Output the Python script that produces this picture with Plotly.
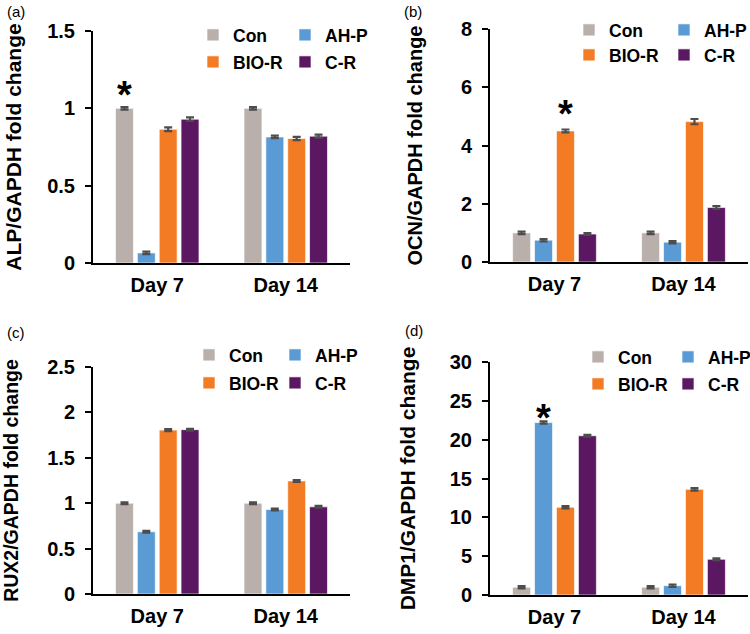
import plotly.graph_objects as go

days = ["Day 7", "Day 14"]
groups = ["Con", "AH-P", "BIO-R", "C-R"]
colors = {"Con": "#B9AFAB", "AH-P": "#5B9BD5", "BIO-R": "#F37B24", "C-R": "#5C1763"}

# panel values (Day 7, Day 14)
alp = {"Con": [1.0, 1.0], "AH-P": [0.065, 0.815], "BIO-R": [0.865, 0.805], "C-R": [0.93, 0.82]}
alp_err = {"Con": [0.008, 0.008], "AH-P": [0.008, 0.008], "BIO-R": [0.012, 0.01], "C-R": [0.012, 0.01]}
ocn = {"Con": [1.0, 1.0], "AH-P": [0.75, 0.68], "BIO-R": [4.5, 4.82], "C-R": [0.96, 1.87]}
ocn_err = {"Con": [0.04, 0.04], "AH-P": [0.04, 0.04], "BIO-R": [0.05, 0.09], "C-R": [0.03, 0.05]}
rux = {"Con": [1.0, 1.0], "AH-P": [0.685, 0.93], "BIO-R": [1.805, 1.245], "C-R": [1.81, 0.96]}
rux_err = {"Con": [0.01, 0.01], "AH-P": [0.01, 0.01], "BIO-R": [0.012, 0.01], "C-R": [0.01, 0.01]}
dmp = {"Con": [1.0, 1.0], "AH-P": [22.2, 1.2], "BIO-R": [11.3, 13.6], "C-R": [20.5, 4.6]}
dmp_err = {"Con": [0.15, 0.15], "AH-P": [0.15, 0.15], "BIO-R": [0.15, 0.15], "C-R": [0.12, 0.12]}

y_titles = ["ALP/GAPDH fold change", "OCN/GAPDH fold change",
            "RUX2/GAPDH fold change", "DMP1/GAPDH fold change"]
panel_tags = ["(a)", "(b)", "(c)", "(d)"]
y_ranges = [[0, 1.5], [0, 8], [0, 2.5], [0, 30]]
y_dticks = [0.5, 2, 0.5, 5]
# significance markers: (group, day, y value)
stars = [("Con", "Day 7", 1.135), ("BIO-R", "Day 7", 5.35), None, ("AH-P", "Day 7", 23.8)]

W, H = 750, 634
FONT = "Liberation Sans, Arial, sans-serif"

# pixel layout of the panels: (x0, x1, ytop, ybottom)
boxes = [(93, 350, 31, 263), (490, 748, 29, 262), (93, 350, 367, 594), (490, 748, 362, 595)]
# legend symbol centres: (x col1, x col2, y row1, y row2)
legpos = [(213, 303, 35, 62), (589, 682, 30, 55), (209, 293, 355, 383), (598, 686, 357, 384)]
tag_pos = [(5, 12), (402, 12), (5, 332), (403, 330)]
title_standoff = [20, 33, 26, 28]
title_size = [21, 20, 19.5, 21]

datasets = [(alp, alp_err), (ocn, ocn_err), (rux, rux_err), (dmp, dmp_err)]

fig = go.Figure()
layout = dict(width=W, height=H, margin=dict(l=0, r=0, t=0, b=0, autoexpand=False), autosize=False,
              paper_bgcolor="white", plot_bgcolor="white", barmode="group",
              bargap=0.32, bargroupgap=0.18, font=dict(family=FONT, color="black"))
annotations = []
for i, ((vals, errs), box) in enumerate(zip(datasets, boxes)):
    k = i + 1
    xa = "x" if k == 1 else f"x{k}"
    ya = "y" if k == 1 else f"y{k}"
    leg_a = "legend" if k == 1 else f"legend{2*k-1}"
    leg_b = f"legend{2*k}"
    for g in groups:
        fig.add_trace(go.Bar(
            x=days, y=vals[g], name=g, xaxis=xa, yaxis=ya,
            marker=dict(color=colors[g], line=dict(color="rgba(255,255,255,0.8)", width=0.8)),
            error_y=dict(type="data", array=errs[g], color="#4D4D4D", thickness=2.2, width=4),
            legend=leg_a if g in ("Con", "AH-P") else leg_b,
        ))
    x0, x1, yt, yb = box
    xkey = "xaxis" if k == 1 else f"xaxis{k}"
    ykey = "yaxis" if k == 1 else f"yaxis{k}"
    layout[xkey] = dict(domain=[x0 / W, x1 / W], anchor=ya, type="category", automargin=False,
                        range=[-0.5, 1.5], showline=True, linecolor="black", linewidth=2,
                        ticks="", showgrid=False, zeroline=False,
                        tickfont=dict(size=20, family=FONT, color="black", weight="bold"),
                        ticklabelstandoff=3)
    layout[ykey] = dict(domain=[1 - yb / H, 1 - yt / H], anchor=xa, range=y_ranges[i],
                        automargin=False,
                        dtick=y_dticks[i], tick0=0, showline=True, linecolor="black",
                        linewidth=2, ticks="outside", ticklen=6, tickwidth=2,
                        tickcolor="black", showgrid=False, zeroline=False,
                        tickfont=dict(size=20, family=FONT, color="black", weight="bold"),
                        ticklabelstandoff=6,
                        title=dict(text=y_titles[i], standoff=title_standoff[i],
                                   font=dict(size=title_size[i], family=FONT, color="black",
                                             weight="bold")))
    # legends
    cx1, cx2, ry1, ry2 = legpos[i]
    for lname, ry in ((leg_a, ry1), (leg_b, ry2)):
        layout[lname] = dict(orientation="h", x=(cx1 - 20) / W, xanchor="left",
                             y=1 - ry / H, yanchor="middle", bgcolor="rgba(0,0,0,0)",
                             borderwidth=0, entrywidth=cx2 - cx1 - 43, entrywidthmode="pixels",
                             font=dict(size=17.5, family=FONT, color="black", weight="bold"),
                             itemclick=False, itemdoubleclick=False)
    # panel tag
    tx, ty = tag_pos[i]
    annotations.append(dict(text=panel_tags[i], x=tx / W, y=1 - ty / H, xref="paper",
                            yref="paper", xanchor="left", yanchor="middle", showarrow=False,
                            font=dict(size=15, family=FONT, color="black")))
    # star
    if stars[i] is not None:
        g, d, yv = stars[i]
        group_px = (x1 - x0) / 2 * (1 - 0.32)
        slot = group_px / 4
        off = (groups.index(g) - 1.5) * slot
        annotations.append(dict(text="*", x=d, y=yv, xref=xa, yref=ya, xshift=off,
                                yanchor="middle", showarrow=False, yshift=-8,
                                font=dict(size=38, family=FONT, color="black", weight="bold")))

layout["annotations"] = annotations
fig.update_layout(**layout)
fig.write_html("out.html", config={"displayModeBar": False},
               post_script="document.body.style.margin='0';document.body.style.overflow='hidden';")
